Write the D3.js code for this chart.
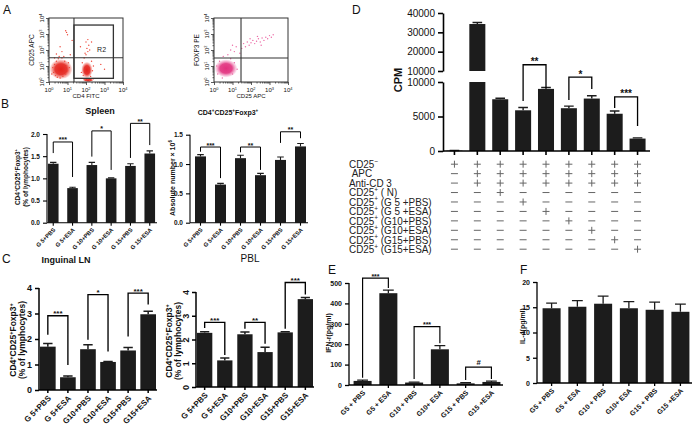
<!DOCTYPE html>
<html><head><meta charset="utf-8">
<script src="https://cdn.jsdelivr.net/npm/d3@7"></script>
<style>body{margin:0;background:#fff}svg{display:block}text{font-family:"Liberation Sans",Arial,Helvetica,sans-serif}</style>
</head><body><svg id="c" width="697" height="427"></svg>
<script>
// ---------------- DATA ----------------
const spleenLabels = ["G 5+PBS","G 5+ESA","G 10+PBS","G 10+ESA","G 15+PBS","G 15+ESA"];
const spleenPct    = [1.33,0.78,1.30,1.00,1.28,1.56];
const spleenPctErr = [0.03,0.02,0.06,0.01,0.05,0.06];
const spleenAbs    = [1.13,0.65,1.10,0.81,1.07,1.30];
const spleenAbsErr = [0.03,0.02,0.05,0.03,0.05,0.05];
const lnLabels  = ["G 5+PBS","G 5+ESA","G10+PBS","G10+ESA","G15+PBS","G15+ESA"];
const lnPct     = [1.70,0.50,1.60,1.10,1.55,2.97];
const lnErr     = [0.12,0.05,0.17,0.02,0.12,0.12];
const pblPct    = [2.28,1.12,2.22,1.47,2.30,3.70];
const pblErr    = [0.05,0.10,0.10,0.20,0.03,0.07];
const cpmVals   = [50,34300,7500,5900,9000,6200,7600,5400,1800];
const cpmErr    = [20,800,150,400,200,300,400,400,100];
const cpmTicksUpper = [10000,20000,30000,40000];
const cpmTicksLower = [0,5000,10000];
const tableRows = ["CD25^−","\u00a0APC","Anti-CD 3","CD25^+ ( N)","CD25^+ (G 5 +PBS)","CD25^+ (G 5 +ESA)","CD25^+ (G10+PBS)","CD25^+ (G10+ESA)","CD25^+ (G15+PBS)","CD25^+ (G15+ESA)"];
const tableSigns = [
 "+++++++++",
 "-++++++++",
 "-++++++++",
 "--+------",
 "---+-----",
 "----+----",
 "-----+---",
 "------+--",
 "-------+-",
 "--------+"];
const cytoLabels = ["G5 + PBS","G5 + ESA","G10 + PBS","G10+ ESA","G15 + PBS","G15 +ESA"];
const ifnVals = [20,450,12,175,8,15];
const ifnErr  = [4,15,2,18,3,4];
const il4Vals = [14.8,15.1,15.7,14.8,14.5,14.1];
const il4Err  = [1.0,1.2,1.5,1.3,1.5,1.5];
// brackets: [barA, barB, top, leftEnd, rightEnd, label]
const spleenPctBr = [[0,1,1.82,1.57,1.03,"***"],[2,3,2.07,1.49,1.19,"*"],[4,5,2.24,1.46,1.75,"**"]];
const spleenAbsBr = [[0,1,1.29,1.21,0.76,"***"],[2,3,1.29,1.20,0.90,"**"],[4,5,1.55,1.36,1.44,"**"]];
const lnBr  = [[0,1,2.91,2.17,0.98,"***"],[2,3,3.74,1.97,1.51,"*"],[4,5,3.80,2.10,3.35,"***"]];
const pblBr = [[0,1,2.72,2.48,1.35,"***"],[2,3,2.72,2.45,1.82,"**"],[4,5,4.40,2.45,3.90,"***"]];
const cpmBr = [[3,4,12500,7250,9130,"**"],[5,6,10720,7390,8990,"*"],[7,8,7830,6230,3620,"***"]];
const ifnBr = [[0,1,524,35,475,"***"],[2,3,286,30,205,"***"],[4,5,88,25,30,"#"]];
// flow cytometry (log10 units)
const flowDecades = [0,1,2,3,4];
const cd4Gate = {v:1.35, h:1.52, r2:[1.35,3.48,0.23,3.56]};
const foxGate = {v:1.46, h:1.5};
const cd4Blobs = [{x:0.65,y:0.8,rx:0.6,ry:0.62},{x:2.05,y:0.75,rx:0.3,ry:0.5},{x:2.12,y:0.12,rx:0.28,ry:0.12}];
const cd4Dots = [[0.25,0.6],[0.3,1.1],[0.35,0.4],[0.4,1.3],[0.45,0.3],[0.5,1.45],[0.85,1.3],[0.9,0.5],[0.95,1.0],[1.0,0.7],[1.05,1.2],[0.2,0.9],[0.15,0.5],[0.7,1.5],[0.6,0.25],[0.75,0.35],[1.1,0.9],[0.55,1.6],[0.3,1.5],[0.8,1.6],
 [0.95,3.1],[1.0,2.95],[0.9,3.2],[0.7,1.9],[0.4,1.75],[1.15,1.7],[0.6,2.2],[1.25,2.6],
 [1.75,0.6],[1.8,1.2],[1.85,0.4],[2.3,1.3],[2.35,0.7],[2.4,1.0],[1.9,1.5],[2.25,0.35],
 [2.0,1.7],[2.1,1.9],[2.05,2.1],[2.15,2.3],[2.0,2.5],[2.1,2.65],[1.95,1.8],[2.2,2.0],[1.7,2.2],[2.3,2.5],
 [2.0,0.1],[2.1,0.15],[2.2,0.08],[2.3,0.12],[1.9,0.15],[2.4,0.2],[2.8,1.1],[3.0,0.8]];
const foxBlobs = [{x:0.65,y:0.85,rx:0.6,ry:0.55}];
const foxDots = [[0.9,2.0],[1.0,2.3],[1.1,1.9],[1.2,2.2],[1.5,2.1],[1.6,2.4],[1.7,2.2],[1.8,2.5],[1.9,2.3],[2.0,2.45],[2.1,2.6],[2.2,2.4],[2.3,2.55],[2.4,2.7],[2.5,2.5],[2.6,2.75],[2.7,2.6],[2.8,2.8],[2.9,2.7],[3.0,2.9],[3.1,2.8],[3.2,2.95],[2.35,2.85],[1.95,2.7],[2.55,2.3],[1.4,1.8],[0.75,1.7],[0.5,1.6],
 [0.2,0.5],[0.3,1.3],[1.0,0.5],[1.1,1.2],[0.15,1.0],[0.9,1.45],[0.45,0.25],[1.25,0.8]];

// ---------------- HELPERS ----------------
const svg = d3.select("#c");
const FONT = '"Liberation Sans",Arial,Helvetica,sans-serif';

function rich(t, str, fs){
  const parts=[]; let cur="";
  for(let i=0;i<str.length;i++){
    if(str[i]==='^'){ if(cur) parts.push([cur,false]); cur=""; parts.push([str[i+1],true]); i++; }
    else cur+=str[i];
  }
  if(cur) parts.push([cur,false]);
  let prevSup=false;
  parts.forEach(([s,sup])=>{
    const ts=t.append("tspan").text(s);
    if(sup){ ts.attr("font-size",fs*0.65); if(!prevSup) ts.attr("dy",-fs*0.4); }
    else if(prevSup){ ts.attr("dy",fs*0.4); }
    prevSup=sup;
  });
  return t;
}
function styleAxis(g, fs, sw, bold){
  g.attr("font-family",FONT).attr("font-size",fs);
  g.select(".domain").attr("stroke","#000").attr("stroke-width",sw);
  g.selectAll(".tick line").attr("stroke","#000").attr("stroke-width",sw);
  g.selectAll(".tick text").attr("fill","#111").attr("font-weight",bold?"bold":"normal");
}
function label(x,y,str,fs,opts={}){
  const t=svg.append("text").attr("x",x).attr("y",y).attr("font-size",fs)
    .attr("font-weight",opts.bold?"bold":"normal").attr("text-anchor",opts.anchor||"start").attr("fill","#111");
  if(opts.rot) t.attr("transform",`rotate(${opts.rot},${x},${y})`);
  rich(t,str,fs);
  return t;
}

function barPanel(o){
  const g=svg.append("g");
  const x=d3.scaleBand().domain(d3.range(o.labels.length)).range(o.xr).paddingInner(o.pi).paddingOuter(o.po);
  const y=d3.scaleLinear().domain(o.yd).range(o.yr);
  const bw=x.bandwidth(), cx=i=>x(i)+bw/2;
  const data=o.values.map((v,i)=>({i,v,e:o.errs[i]}));
  g.selectAll("rect").data(data).join("rect")
    .attr("x",d=>x(d.i)).attr("y",d=>y(d.v)).attr("width",bw).attr("height",d=>y(0)-y(d.v)).attr("fill","#1c1c1c");
  const cw=bw*(o.cap||0.6);
  g.selectAll("path.err").data(data).join("path").attr("class","err")
    .attr("d",d=>`M${cx(d.i)},${y(d.v)}V${y(d.v+d.e)}M${cx(d.i)-cw/2},${y(d.v+d.e)}H${cx(d.i)+cw/2}`)
    .attr("stroke","#1c1c1c").attr("stroke-width",o.sw).attr("fill","none");
  const yg=g.append("g").attr("transform",`translate(${o.ax},0)`)
    .call(d3.axisLeft(y).tickValues(o.yt).tickFormat(o.fmt).tickSize(o.ts||4).tickSizeOuter(0));
  yg.select(".domain").attr("d",`M0,${y(o.yd[1])}V${y(0)}`);
  styleAxis(yg,o.tf,o.sw,o.boldTicks!==false);
  if(o.rotY){
    yg.selectAll(".tick text").attr("x",null).attr("dy",null).attr("text-anchor","middle")
      .attr("transform",`translate(${-(o.ts||4)-3},0) rotate(-90)`);
  }
  const xg=g.append("g").attr("transform",`translate(0,${y(0)})`)
    .call(d3.axisBottom(x).tickSize(3).tickSizeOuter(0).tickFormat(i=>o.labels[i]));
  xg.select(".domain").attr("d",`M${o.ax},0H${o.xr[1]}`);
  styleAxis(xg,o.xf,o.sw,true);
  xg.selectAll(".tick text").attr("y",0).attr("dy",0).attr("text-anchor","end")
    .attr("transform",`translate(${o.xf*0.45},${4+o.xf*0.6}) rotate(-45)`);
  o.br.forEach(([a,b,top,le,re,lab])=>{
    g.append("path").attr("d",`M${cx(a)},${y(le)}V${y(top)}H${cx(b)}V${y(re)}`)
      .attr("stroke","#000").attr("stroke-width",o.sw*0.9).attr("fill","none");
    g.append("text").attr("x",(cx(a)+cx(b))/2).attr("y",y(top)+(lab==="#"?-2:0.5))
      .attr("text-anchor","middle").attr("font-size",lab==="#"?o.sf*1.1:o.sf).attr("font-weight","bold").attr("fill","#111").text(lab);
  });
  if(o.ylab) o.ylab.forEach((s,k)=>label(o.ylx[k],o.yly,s,o.ylf,{bold:true,anchor:"middle",rot:-90}));
  return {x,y,cx};
}

function flowPlot(o){
  const g=svg.append("g");
  const x=d3.scaleLinear().domain([0,4]).range([o.x0,o.x1]);
  const y=d3.scaleLinear().domain([0,4]).range([o.yb,o.yt]);
  const gid="grad"+o.id;
  const grad=svg.append("defs").append("radialGradient").attr("id",gid);
  grad.append("stop").attr("offset","0%").attr("stop-color",o.color).attr("stop-opacity",1);
  grad.append("stop").attr("offset","55%").attr("stop-color",o.color).attr("stop-opacity",0.9);
  grad.append("stop").attr("offset","100%").attr("stop-color",o.color2).attr("stop-opacity",0.1);
  g.selectAll("ellipse").data(o.blobs).join("ellipse")
    .attr("cx",d=>x(d.x)).attr("cy",d=>y(d.y)).attr("rx",d=>x(d.rx)-x(0)).attr("ry",d=>y(0)-y(d.ry)).attr("fill",`url(#${gid})`);
  g.selectAll("circle").data(o.dots).join("circle")
    .attr("cx",d=>x(d[0])).attr("cy",d=>y(d[1])).attr("r",0.7).attr("fill",o.color2);
  g.append("rect").attr("x",o.x0).attr("y",o.yt).attr("width",o.x1-o.x0).attr("height",o.yb-o.yt)
    .attr("fill","none").attr("stroke","#333").attr("stroke-width",1);
  g.append("line").attr("x1",x(o.gate.v)).attr("x2",x(o.gate.v)).attr("y1",o.yt).attr("y2",o.yb).attr("stroke","#333").attr("stroke-width",1.1);
  g.append("line").attr("x1",o.x0).attr("x2",o.x1).attr("y1",y(o.gate.h)).attr("y2",y(o.gate.h)).attr("stroke","#333").attr("stroke-width",1.1);
  if(o.gate.r2){
    const r=o.gate.r2;
    g.append("rect").attr("x",x(r[0])).attr("y",y(r[3])).attr("width",x(r[1])-x(r[0])).attr("height",y(r[2])-y(r[3]))
      .attr("fill","none").attr("stroke","#333").attr("stroke-width",1.3);
    g.append("text").attr("x",x(2.6)).attr("y",y(1.85)).attr("font-size",7).attr("fill","#222").text("R2");
  }
  const minor=[];
  for(let d=0;d<4;d++) for(let k=2;k<10;k++) minor.push(d+Math.log10(k));
  const bx=g.append("g").attr("transform",`translate(0,${o.yb})`).call(d3.axisBottom(x).tickValues(minor).tickSize(1.5).tickFormat(""));
  const bx2=g.append("g").attr("transform",`translate(0,${o.yb})`).call(d3.axisBottom(x).tickValues(flowDecades).tickSize(3).tickFormat(""));
  const by=g.append("g").attr("transform",`translate(${o.x0},0)`).call(d3.axisLeft(y).tickValues(minor).tickSize(1.5).tickFormat(""));
  const by2=g.append("g").attr("transform",`translate(${o.x0},0)`).call(d3.axisLeft(y).tickValues(flowDecades).tickSize(3).tickFormat(""));
  [bx,bx2,by,by2].forEach(a=>{a.select(".domain").remove(); a.selectAll("line").attr("stroke","#333").attr("stroke-width",0.8);});
  flowDecades.forEach(d=>{
    label(x(d),o.yb+10,"10^"+d,6,{anchor:"middle"});
    label(o.x0-5,y(d),"10^"+d,6,{anchor:"middle",rot:-90});
  });
  label((o.x0+o.x1)/2,o.yb+16,o.xlab,6,{anchor:"middle"});
  label(o.x0-15,(o.yt+o.yb)/2,o.ylab,6.5,{anchor:"middle",rot:-90});
}

// ---------------- PANEL A ----------------
label(3,14,"A",12);
flowPlot({id:1,x0:49,x1:123,yt:18,yb:82,color:"#e4221b",color2:"#ee4a3c",blobs:cd4Blobs,dots:cd4Dots,gate:cd4Gate,xlab:"CD4 FITC",ylab:"CD25 APC"});
flowPlot({id:2,x0:214,x1:288,yt:18,yb:82,color:"#e2307e",color2:"#ec6aa6",blobs:foxBlobs,dots:foxDots,gate:foxGate,xlab:"CD25 APC",ylab:"FOXP3 PE"});

// ---------------- PANEL B ----------------
label(1,108,"B",12);
label(100,114,"Spleen",9,{bold:true,anchor:"middle"});
label(228,115,"CD4^+CD25^+Foxp3^+",7,{bold:true,anchor:"middle"});
barPanel({labels:spleenLabels,values:spleenPct,errs:spleenPctErr,xr:[46,157],pi:0.45,po:0.1,ax:47,
  yd:[0,2],yr:[222.7,134],yt:[0,0.5,1,1.5,2],fmt:d3.format(".1f"),tf:6.5,xf:5.8,sw:1.1,sf:7,
  br:spleenPctBr,ylab:["CD4^+CD25^+Foxp3^+","(% of lymphocytes)"],ylx:[20,27.5],yly:177,ylf:6.5});
barPanel({labels:spleenLabels,values:spleenAbs,errs:spleenAbsErr,xr:[193,308],pi:0.45,po:0.1,ax:190,
  yd:[0,1.5],yr:[222.7,134.7],yt:[0,0.5,1,1.5],fmt:d3.format(".1f"),tf:6.5,xf:5.8,sw:1.1,sf:7,
  br:spleenAbsBr,ylab:["Absolute number × 10^6"],ylx:[175],yly:178,ylf:7});

// ---------------- PANEL C ----------------
label(2,263,"C",12);
label(66,263,"Inguinal LN",9,{bold:true,anchor:"middle"});
label(250,262,"PBL",10,{anchor:"middle"});
barPanel({labels:lnLabels,values:lnPct,errs:lnErr,xr:[39,157],pi:0.22,po:0.05,ax:39,
  yd:[0,4],yr:[390,288],yt:[0,1,2,3,4],fmt:d3.format("d"),tf:9,xf:8,sw:1.5,sf:8,
  br:lnBr,ylab:["CD4^+CD25^+Foxp3^+","(% of lymphocytes)"],ylx:[16,25],yly:340,ylf:8.5});
barPanel({labels:lnLabels,values:pblPct,errs:pblErr,xr:[196,314],pi:0.24,po:0.05,ax:196,rotY:true,
  yd:[0,4],yr:[387,292],yt:[0,1,2,3,4],fmt:d3.format("d"),tf:9,xf:8,sw:1.5,sf:8,
  br:pblBr,ylab:["CD4^+CD25^+Foxp3^+","(% of lymphocytes)"],ylx:[172,181],yly:341,ylf:8.5});

// ---------------- PANEL D ----------------
label(352,14,"D",12);
(function(){
  const g=svg.append("g");
  const x=d3.scaleBand().domain(d3.range(cpmVals.length)).range([443,649]).paddingInner(0.3).paddingOuter(0.15);
  const yLo=d3.scaleLinear().domain([0,10000]).range([151,82]);
  const yUp=d3.scaleLinear().domain([10000,40000]).range([71,13]);
  const bw=x.bandwidth(), cx=i=>x(i)+bw/2;
  const ypos=v=>v<=10000?yLo(v):yUp(v);
  cpmVals.forEach((v,i)=>{
    g.append("rect").attr("x",x(i)).attr("width",bw).attr("y",yLo(Math.min(v,10000))).attr("height",yLo(0)-yLo(Math.min(v,10000))).attr("fill","#1c1c1c");
    if(v>10000) g.append("rect").attr("x",x(i)).attr("width",bw).attr("y",yUp(v)).attr("height",yUp(10000)-yUp(v)).attr("fill","#1c1c1c");
    const t=ypos(v+cpmErr[i]), cw=bw*0.6;
    g.append("path").attr("d",`M${cx(i)},${ypos(v)}V${t}M${cx(i)-cw/2},${t}H${cx(i)+cw/2}`).attr("stroke","#1c1c1c").attr("stroke-width",1.4).attr("fill","none");
  });
  const up=g.append("g").attr("transform","translate(443,0)").call(d3.axisLeft(yUp).tickValues(cpmTicksUpper).tickFormat(d3.format("d")).tickSize(5).tickSizeOuter(0));
  const lo=g.append("g").attr("transform","translate(443,0)").call(d3.axisLeft(yLo).tickValues(cpmTicksLower).tickFormat(d3.format("d")).tickSize(5).tickSizeOuter(0));
  styleAxis(up,10,1.6,false); styleAxis(lo,10,1.6,false);
  const xg=g.append("g").attr("transform",`translate(0,${yLo(0)})`).call(d3.axisBottom(x).tickSize(4).tickSizeOuter(0).tickFormat(""));
  xg.select(".domain").attr("d","M443,0H650");
  styleAxis(xg,10,1.6,false);
  cpmBr.forEach(([a,b,top,le,re,lab])=>{
    g.append("path").attr("d",`M${cx(a)},${yLo(le)}V${yLo(top)}H${cx(b)}V${yLo(re)}`).attr("stroke","#000").attr("stroke-width",1.3).attr("fill","none");
    g.append("text").attr("x",(cx(a)+cx(b))/2).attr("y",yLo(top)+0.5).attr("text-anchor","middle").attr("font-size",10).attr("font-weight","bold").attr("fill","#111").text(lab);
  });
  label(402,80,"CPM",11,{bold:true,anchor:"middle",rot:-90});
  const rowY=d3.scalePoint().domain(d3.range(tableRows.length)).range([168,253]);
  const tg=svg.append("g").attr("transform","translate(349,0) scale(0.9,1)");
  tableRows.forEach((s,r)=>{
    const t=tg.append("text").attr("x",0).attr("y",rowY(r)).attr("font-size",11).attr("fill","#222");
    rich(t,s,11);
  });
  tableSigns.forEach((row,r)=>{
    row.split("").forEach((s,c)=>{
      const yy=rowY(r)-3.8, xx=cx(c);
      let d=`M${xx-3.5},${yy}H${xx+3.5}`;
      if(s==="+") d+=`M${xx},${yy-3.5}V${yy+3.5}`;
      svg.append("path").attr("d",d).attr("stroke","#666").attr("stroke-width",1).attr("fill","none");
    });
  });
})();

// ---------------- PANEL E ----------------
label(328,274,"E",12);
barPanel({labels:cytoLabels,values:ifnVals,errs:ifnErr,xr:[351,503],pi:0.3,po:0.1,ax:349,
  yd:[0,500],yr:[385,283],yt:[0,100,200,300,400,500],fmt:d3.format("d"),tf:7,xf:7,sw:1.3,sf:7,
  br:ifnBr,ylab:["IFN-r(pg/ml)"],ylx:[331],yly:333,ylf:7});

// ---------------- PANEL F ----------------
label(520,274,"F",12);
barPanel({labels:cytoLabels,values:il4Vals,errs:il4Err,xr:[540,692],pi:0.3,po:0.1,ax:537,
  yd:[0,20],yr:[383,282],yt:[0,5,10,15,20],fmt:d3.format("d"),tf:7,xf:7,sw:1.3,sf:7,
  br:[],ylab:["IL-4(pg/ml)"],ylx:[525],yly:326,ylf:7});
</script></body></html>
